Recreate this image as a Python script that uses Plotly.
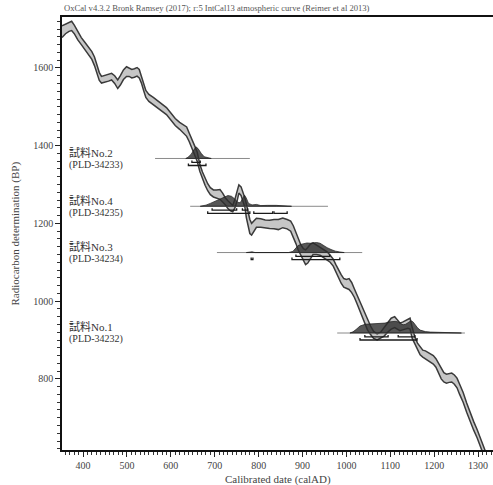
import plotly.graph_objects as go

# ---------------- calibration curve (IntCal13) ----------------
cal_year = [352, 360, 368, 374, 380, 388, 396, 404, 412, 420, 426, 432, 437, 442, 450, 458, 465, 472, 479,
            485, 492, 499, 505, 511, 517, 523, 528, 533, 538, 543, 550, 560, 570, 580, 590, 600, 610, 620,
            628, 636, 642, 648, 654, 660, 666, 672, 678, 684, 690, 697, 704, 712, 718, 724, 730, 736, 741,
            746, 751, 755, 760, 765, 769, 772, 776, 780, 784, 789, 795, 805, 815, 825, 835, 845, 855, 865,
            873, 879, 885, 890, 896, 902, 907, 912, 918, 924, 932, 940, 948, 956, 963, 970, 976, 982, 988,
            994, 1000, 1006, 1012, 1018, 1024, 1030, 1036, 1042, 1048, 1055, 1062, 1070, 1078, 1086, 1094,
            1102, 1110, 1116, 1122, 1128, 1134, 1140, 1145, 1150, 1156, 1162, 1168, 1174, 1180, 1186, 1192,
            1198, 1204, 1210, 1216, 1222, 1228, 1234, 1240, 1246, 1252, 1258, 1266, 1274, 1282, 1290, 1298,
            1306, 1314, 1322]
bp_upper = [1708, 1712, 1718, 1720, 1710, 1692, 1678, 1666, 1655, 1642, 1628, 1608, 1588, 1578, 1581, 1584,
            1586, 1580, 1569, 1580, 1595, 1603, 1600, 1596, 1598, 1601, 1596, 1580, 1560, 1542, 1532, 1524,
            1516, 1507, 1498, 1484, 1470, 1460, 1455, 1448, 1432, 1418, 1400, 1384, 1352, 1332, 1316, 1302,
            1292, 1286, 1286, 1287, 1278, 1266, 1258, 1252, 1246, 1262, 1286, 1299, 1294, 1280, 1264, 1250,
            1228, 1210, 1200, 1206, 1213, 1212, 1209, 1208, 1210, 1210, 1214, 1210, 1206, 1194, 1176, 1162,
            1145, 1135, 1132, 1138, 1147, 1150, 1144, 1140, 1134, 1127, 1118, 1108, 1094, 1080, 1068, 1058,
            1056, 1058, 1048, 1032, 1016, 1000, 982, 966, 950, 936, 922, 916, 920, 932, 946, 956, 960, 952,
            944, 946, 950, 954, 956, 932, 908, 892, 882, 874, 872, 868, 866, 860, 852, 840, 826, 816, 812,
            814, 815, 810, 802, 786, 765, 738, 712, 690, 669, 646, 622, 598]
bp_lower = [1678, 1688, 1694, 1696, 1688, 1672, 1660, 1648, 1636, 1622, 1606, 1588, 1568, 1561, 1563, 1566,
            1569, 1560, 1547, 1556, 1570, 1578, 1578, 1574, 1576, 1579, 1574, 1561, 1542, 1524, 1514, 1506,
            1498, 1489, 1480, 1466, 1452, 1442, 1434, 1424, 1410, 1394, 1378, 1360, 1334, 1314, 1298, 1284,
            1274, 1268, 1266, 1262, 1255, 1248, 1238, 1232, 1230, 1240, 1258, 1278, 1272, 1256, 1240, 1215,
            1192, 1174, 1170, 1178, 1190, 1190, 1188, 1187, 1186, 1184, 1189, 1186, 1180, 1166, 1148, 1132,
            1118, 1102, 1094, 1098, 1110, 1120, 1120, 1118, 1112, 1106, 1100, 1090, 1074, 1058, 1046, 1036,
            1032, 1030, 1022, 1010, 994, 976, 958, 942, 926, 914, 904, 900, 904, 910, 920, 928, 932, 928,
            924, 926, 928, 930, 928, 904, 890, 874, 862, 856, 852, 846, 843, 838, 830, 814, 800, 792, 789,
            791, 792, 786, 777, 760, 740, 714, 689, 668, 648, 624, 600, 576]

# ---------------- samples ----------------
sample_names = ["試料No.2", "試料No.4", "試料No.3", "試料No.1"]
sample_codes = ["(PLD-34233)", "(PLD-34235)", "(PLD-34234)", "(PLD-34232)"]
sample_bp = [1367, 1244, 1125, 918]
sample_line_start = [564, 644, 705, 979]
sample_line_end = [780, 958, 1036, 1270]

# calibrated probability distributions (relative heights)
dist_cal = [
    [634, 639, 646, 650, 653, 657, 662, 666, 669, 676, 685, 692],
    [667, 680, 690, 700, 712, 722, 730, 738, 745, 752, 758, 764, 768, 772, 777, 785, 795, 805, 812,
     820, 840, 860, 875],
    [772, 778, 785, 792, 868, 878, 885, 890, 896, 903, 910, 918, 925, 932, 940, 948, 956, 965, 975, 985, 995],
    [1008, 1015, 1022, 1031, 1043, 1055, 1066, 1078, 1088, 1097, 1104, 1111, 1118, 1124, 1129, 1135,
     1140, 1147, 1152, 1156, 1162, 1168, 1180, 1191, 1210, 1236, 1262],
]
dist_p = [
    [0.0, 0.1, 0.35, 0.6, 0.8, 1.0, 0.85, 0.6, 0.45, 0.15, 0.03, 0.0],
    [0.0, 0.1, 0.25, 0.42, 0.6, 0.8, 0.92, 0.86, 0.65, 0.35, 0.3, 0.7, 0.95, 0.7, 0.25, 0.12, 0.16, 0.06,
     0.05, 0.08, 0.08, 0.05, 0.0],
    [0.0, 0.05, 0.06, 0.0, 0.0, 0.1, 0.4, 0.6, 0.7, 0.78, 0.82, 0.8, 0.82, 0.86, 0.8, 0.6, 0.42, 0.26,
     0.12, 0.05, 0.0],
    [0.0, 0.1, 0.3, 0.6, 0.75, 0.78, 0.78, 0.8, 0.85, 0.95, 1.0, 1.0, 0.95, 0.8, 0.7, 0.75, 0.9, 1.05,
     0.95, 0.7, 0.45, 0.25, 0.12, 0.08, 0.05, 0.03, 0.0],
]

# 1 sigma and 2 sigma calibrated ranges
sigma1 = [
    [(648, 667)],
    [(694, 750), (763, 775)],
    [(885, 962)],
    [(1042, 1095), (1118, 1156)],
]
sigma2 = [
    [(640, 680)],
    [(684, 780), (789, 832), (835, 865)],
    [(783, 787), (876, 985)],
    [(1031, 1161)],
]

# ---------------- figure ----------------
SERIF = "Liberation Serif, DejaVu Serif, Noto Sans CJK JP, serif"
DIST_SCALE = 30      # BP units per unit relative probability
S1_OFF, S2_OFF, TICK_H = 10, 18, 5

fig = go.Figure()

fig.add_trace(go.Scatter(x=cal_year, y=bp_lower, mode="lines",
                         line=dict(color="#3a3a3a", width=1.5), hoverinfo="skip"))
fig.add_trace(go.Scatter(x=cal_year, y=bp_upper, mode="lines", fill="tonexty",
                         fillcolor="#c6c6c6", line=dict(color="#3a3a3a", width=1.5), hoverinfo="skip"))

annotations = []
for i in range(len(sample_names)):
    b = sample_bp[i]
    fig.add_trace(go.Scatter(x=[sample_line_start[i], sample_line_end[i]], y=[b, b], mode="lines",
                             line=dict(color="#8a8a8a", width=1), hoverinfo="skip"))
    xs = list(dist_cal[i]) + list(reversed(dist_cal[i]))
    ys = [b + p * DIST_SCALE for p in dist_p[i]] + [b] * len(dist_cal[i])
    fig.add_trace(go.Scatter(x=xs, y=ys, mode="lines", fill="toself",
                             fillcolor="rgba(45,45,45,0.8)",
                             line=dict(color="rgba(30,30,30,0.9)", width=0.8), hoverinfo="skip"))
    for ranges, off in ((sigma1[i], S1_OFF), (sigma2[i], S2_OFF)):
        bx, by = [], []
        yb = b - off
        for a, c in ranges:
            bx += [a, a, c, c, None]
            by += [yb + TICK_H, yb, yb, yb + TICK_H, None]
        fig.add_trace(go.Scatter(x=bx, y=by, mode="lines",
                                 line=dict(color="#1a1a1a", width=1.3), hoverinfo="skip"))
    annotations.append(dict(x=364, y=b + 16, xref="x", yref="y", text=sample_names[i], showarrow=False,
                            xanchor="left", yanchor="middle", font=dict(family=SERIF, size=11, color="#333")))
    annotations.append(dict(x=364, y=b - 16, xref="x", yref="y", text=sample_codes[i], showarrow=False,
                            xanchor="left", yanchor="middle", font=dict(family=SERIF, size=10, color="#333")))

annotations.append(dict(x=0, y=1, xref="paper", yref="paper", xanchor="left", yanchor="middle", yshift=9,
                        showarrow=False,
                        text="OxCal v4.3.2 Bronk Ramsey (2017); r:5 IntCal13 atmospheric curve (Reimer et al 2013)",
                        font=dict(family=SERIF, size=8.6, color="#555")))
annotations.append(dict(x=0.5, y=0, xref="paper", yref="paper", xanchor="center", yanchor="middle", yshift=-29,
                        showarrow=False, text="Calibrated date (calAD)",
                        font=dict(family=SERIF, size=11, color="#444")))
annotations.append(dict(x=0, y=0.5, xref="paper", yref="paper", xanchor="center", yanchor="middle", xshift=-47,
                        showarrow=False, text="Radiocarbon determination (BP)", textangle=-90,
                        font=dict(family=SERIF, size=11, color="#444")))

fig.update_layout(
    width=493, height=485,
    margin=dict(l=62, r=0, t=17, b=35),
    paper_bgcolor="white", plot_bgcolor="white",
    showlegend=False,
    annotations=annotations,
    font=dict(family=SERIF, size=10, color="#333"),
    xaxis=dict(range=[352, 1334], tick0=0, dtick=100, ticks="outside", ticklen=5, tickwidth=1,
               tickcolor="#222", showline=True, linecolor="#111", linewidth=1.5, mirror=True,
               showgrid=False, zeroline=False, tickfont=dict(family=SERIF, size=10, color="#444"),
               minor=dict(dtick=10, tick0=0, ticks="outside", ticklen=3, tickcolor="#333", showgrid=False)),
    yaxis=dict(range=[617, 1731], tick0=0, dtick=200, ticks="outside", ticklen=5, tickwidth=1,
               tickcolor="#222", showline=True, linecolor="#111", linewidth=1.5, mirror=False,
               showgrid=False, zeroline=False, tickfont=dict(family=SERIF, size=10, color="#444"),
               minor=dict(dtick=20, tick0=0, ticks="outside", ticklen=3, tickcolor="#333", showgrid=False)),
)

# remove the default page margin so the figure sits at the window's top-left corner
fig.write_html("out.html", config={"displayModeBar": False},
               post_script="document.body.style.margin='0px';")
